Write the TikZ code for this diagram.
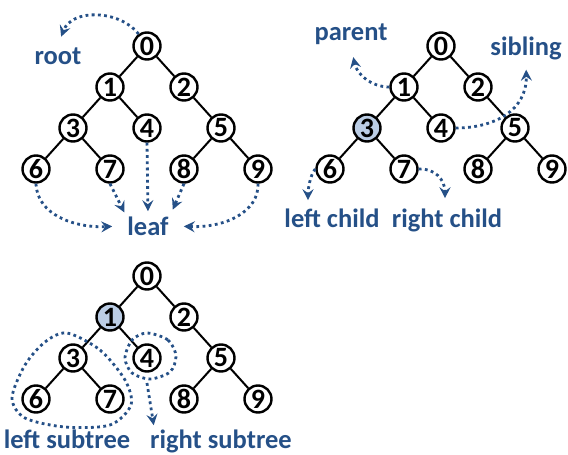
\documentclass[tikz,border=0pt]{standalone}
\usepackage{fontspec}
\setmainfont{Carlito}
\usepackage{xcolor}
\usepackage{tikz}
\usetikzlibrary{positioning,arrows.meta}
\definecolor{navy}{RGB}{37,80,135}
\definecolor{paleblue}{RGB}{187,205,229}

\begin{document}
\begin{tikzpicture}[x=1pt, y=1pt, node distance=41pt and 37pt, on grid,
        vertex/.style={circle, draw, line width=2.4pt, fill=white, minimum size=27pt, inner sep=0pt, font=\bfseries\fontsize{28}{28}\selectfont},
        edge/.style={line width=2pt},
        note/.style={text=navy, anchor=base, inner sep=2pt, font=\bfseries\fontsize{26.5}{26.5}\selectfont},
        pointer/.style={navy, line width=2.8pt, dash pattern=on 2.8pt off 3.4pt, -{Stealth[length=11pt, width=11pt, inset=4pt]}}
    ]
        \useasboundingbox (0,0) rectangle (568,-455);

        % Tree a: root and leaves
        \node [vertex] (a0) at (147,-46) {0};
        \node [vertex, below left=of a0] (a1) {1};
        \node [vertex, below right=of a0] (a2) {2};
        \node [vertex, below left=of a1] (a3) {3};
        \node [vertex, below right=of a1] (a4) {4};
        \node [vertex, below right=of a2] (a5) {5};
        \node [vertex, below left=of a3] (a6) {6};
        \node [vertex, below right=of a3] (a7) {7};
        \node [vertex, below left=of a5] (a8) {8};
        \node [vertex, below right=of a5] (a9) {9};

        % Tree b: parent, children, sibling
        \node [vertex] (b0) at (441,-46) {0};
        \node [vertex, below left=of b0] (b1) {1};
        \node [vertex, below right=of b0] (b2) {2};
        \node [vertex, below left=of b1, fill=paleblue] (b3) {3};
        \node [vertex, below right=of b1] (b4) {4};
        \node [vertex, below right=of b2] (b5) {5};
        \node [vertex, below left=of b3] (b6) {6};
        \node [vertex, below right=of b3] (b7) {7};
        \node [vertex, below left=of b5] (b8) {8};
        \node [vertex, below right=of b5] (b9) {9};

        % Tree c: subtrees
        \node [vertex] (c0) at (147,-276) {0};
        \node [vertex, below left=of c0, fill=paleblue] (c1) {1};
        \node [vertex, below right=of c0] (c2) {2};
        \node [vertex, below left=of c1] (c3) {3};
        \node [vertex, below right=of c1] (c4) {4};
        \node [vertex, below right=of c2] (c5) {5};
        \node [vertex, below left=of c3] (c6) {6};
        \node [vertex, below right=of c3] (c7) {7};
        \node [vertex, below left=of c5] (c8) {8};
        \node [vertex, below right=of c5] (c9) {9};

        \foreach \t in {a,b,c}
            \foreach \u/\v in {0/1,0/2,1/3,1/4,2/5,3/6,3/7,5/8,5/9}
                \draw [edge] (\t\u) -- (\t\v);

        % Labels
        \node [note] (root) at (58,-64) {root};
        \node [note] (leaf) at (148,-235) {leaf};
        \node [note] (parent) at (351,-40) {parent};
        \node [note] (sibling) at (526,-55) {sibling};
        \node [note] (lchild) at (332,-227) {left child};
        \node [note] (rchild) at (447,-227) {right child};
        \node [note] (lsub) at (67,-448) {left subtree};
        \node [note] (rsub) at (221,-448) {right subtree};

        % Pointers
        \draw [pointer, shorten >=9pt] (a0.125) .. controls (120,-10) and (72,-8) .. (root.north);
        \draw [pointer, shorten >=13pt] (a6.south) .. controls (37,-215) and (75,-228) .. (leaf.west);
        \draw [pointer, shorten >=2pt] (a7.south) -- (leaf.north west);
        \draw [pointer, shorten >=3pt] (a4.south) -- (leaf.north);
        \draw [pointer, shorten >=5pt] (a8.south) -- (leaf.north east);
        \draw [pointer, shorten >=13pt] (a9.south) .. controls (259,-212) and (225,-228) .. (leaf.east);

        \draw [pointer, shorten >=11pt] (b1.west) .. controls (372,-87) and (357,-75) .. (parent.south);
        \draw [pointer, shorten >=8pt] (b4.east) .. controls (495,-128) and (527,-110) .. (sibling.south);
        \draw [pointer, shorten >=6pt] (b6.west) .. controls (310,-175) and (308,-190) .. ([xshift=-24pt]lchild.north);
        \draw [pointer, shorten >=8pt] (b7.east) .. controls (435,-168) and (445,-180) .. ([xshift=-2pt]rchild.north);

        \draw [pointer, -] plot [smooth cycle] coordinates {(67,-333) (100,-350) (125,-380) (131,-405) (110,-425) (65,-427) (25,-418) (12,-398) (25,-365) (45,-342)};
        \draw [pointer, -] plot [smooth cycle] coordinates {(147,-333) (168,-340) (176,-356) (170,-372) (150,-379) (132,-373) (125,-358) (132,-340)};
        \draw [pointer, shorten >=2pt] (147,-383) -- ([xshift=6pt]rsub.north west);
    \end{tikzpicture}
\end{document}
